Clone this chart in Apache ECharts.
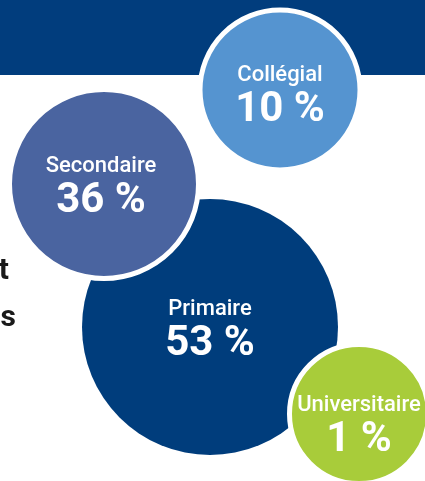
<!DOCTYPE html>
<html>
<head>
<meta charset="utf-8">
<script src="https://cdn.jsdelivr.net/npm/echarts@6/dist/echarts.min.js"></script>
<style>
html,body{margin:0;padding:0;background:#fff;}
#c{width:425px;height:481px;}
</style>
</head>
<body>
<div id="c"></div>
<script>
// Data
const categories = ['Primaire', 'Secondaire', 'Universitaire', 'Collégial'];
const values = [53, 36, 1, 10];

// Layout of the bubbles (design positions, pixel space)
const centersX = [210, 104, 359, 280];
const centersY = [327, 184, 414, 90];
const diameters = [256, 189, 139, 160];
const labelDX = [0, -3, 0, 0];
const labelDY = [2, 2, 11, 5];
const colors = ['#003D7C', '#4A64A0', '#A8CC3A', '#5594D0'];
const borders = [0, 5, 5, 5];

const chart = echarts.init(document.getElementById('c'), null, {renderer: 'canvas'});

const data = categories.map((name, i) => ({
  name: name,
  value: [centersX[i], centersY[i], values[i]],
  symbolSize: diameters[i],
  itemStyle: {color: colors[i], borderColor: '#ffffff', borderWidth: borders[i], opacity: 1},
  label: {offset: [labelDX[i], labelDY[i]]}
}));

chart.setOption({
  animation: false,
  grid: {left: 0, right: 0, top: 0, bottom: 0},
  xAxis: {type: 'value', min: 0, max: 425, show: false},
  yAxis: {type: 'value', min: 0, max: 481, inverse: true, show: false},
  graphic: [
    {type: 'rect', z: 0, shape: {x: 0, y: 0, width: 425, height: 75}, style: {fill: '#013D7D'}},
    {type: 'text', z: 10, x: 9, y: 286, style: {text: 't', fill: '#1a1a1a', font: 'bold 30px Roboto', textAlign: 'right', textVerticalAlign: 'bottom'}},
    {type: 'text', z: 10, x: 16, y: 333, style: {text: 'es', fill: '#1a1a1a', font: 'bold 30px Roboto', textAlign: 'right', textVerticalAlign: 'bottom'}}
  ],
  series: [{
    type: 'scatter',
    z: 2,
    data: data,
    emphasis: {disabled: true},
    label: {
      show: true,
      position: 'inside',
      formatter: p => '{n|' + p.name + '}\n{v|' + p.value[2] + ' %}',
      rich: {
        n: {fontFamily: 'Roboto', fontSize: 22, fontWeight: 500, color: '#ffffff', lineHeight: 30, align: 'center'},
        v: {fontFamily: 'Roboto', fontSize: 42, fontWeight: 'bold', color: '#ffffff', lineHeight: 40, align: 'center'}
      }
    }
  }]
});
</script>
</body>
</html>
